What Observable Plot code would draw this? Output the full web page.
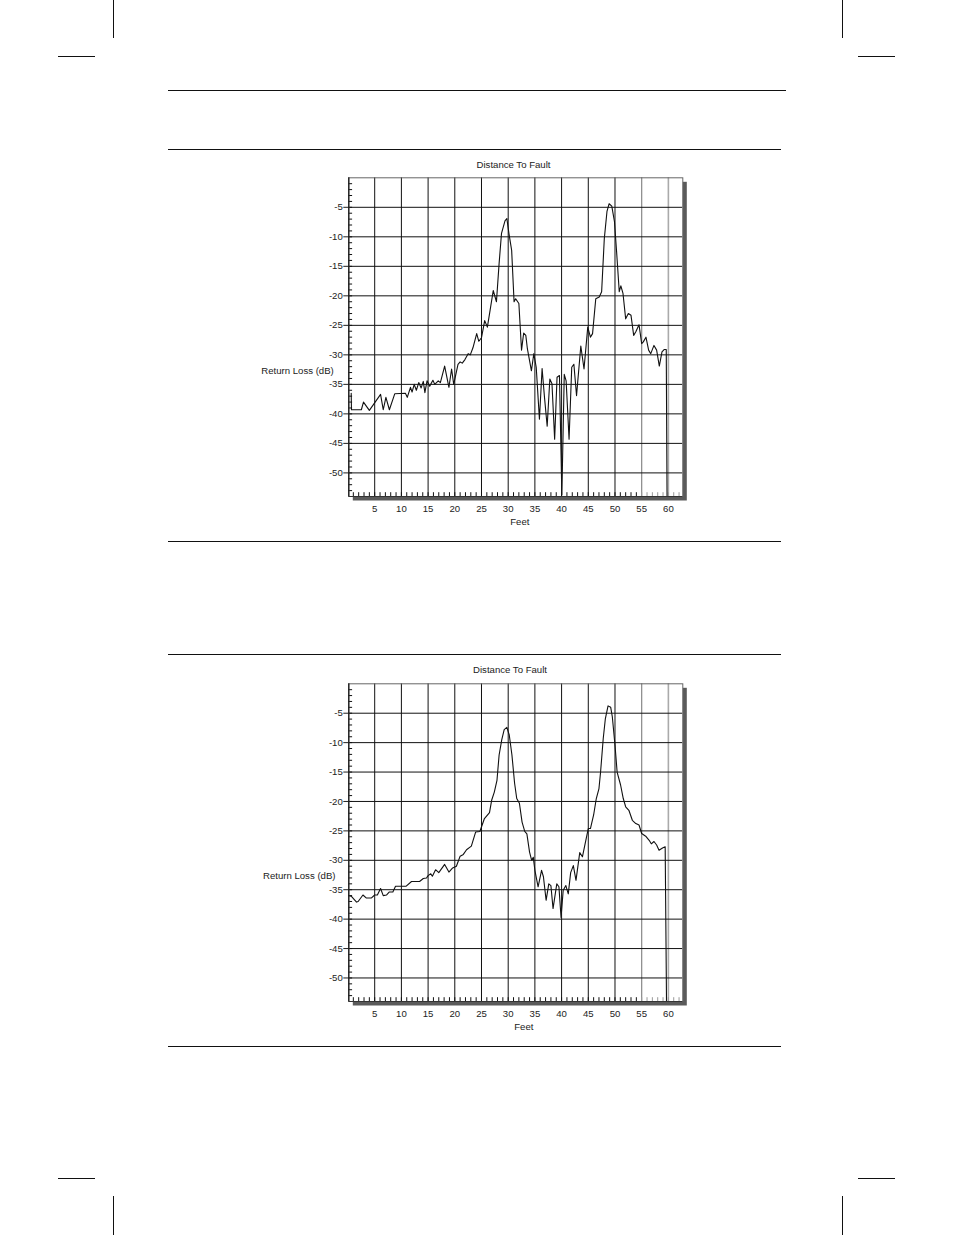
<!DOCTYPE html>
<html><head><meta charset="utf-8">
<script src="https://cdn.jsdelivr.net/npm/d3@7"></script>
<script src="https://cdn.jsdelivr.net/npm/@observablehq/plot@0.6"></script>
<style>
body{margin:0;background:#fff;}
#page{position:relative;width:954px;height:1235px;overflow:hidden;font-family:"Liberation Sans",Arial,sans-serif;}
.h{position:absolute;height:0;border-top:1px solid #111;}
.v{position:absolute;width:0;border-left:1px solid #111;}
.chart{position:absolute;left:0;}
</style></head><body>
<div id="page">
  <div class="v" style="left:113px;top:0;height:38px"></div>
  <div class="v" style="left:842px;top:0;height:38px"></div>
  <div class="h" style="left:58px;top:56px;width:37px"></div>
  <div class="h" style="left:858px;top:56px;width:37px"></div>
  <div class="h" style="left:58px;top:1178px;width:37px"></div>
  <div class="h" style="left:858px;top:1178px;width:37px"></div>
  <div class="v" style="left:113px;top:1196px;height:39px"></div>
  <div class="v" style="left:842px;top:1196px;height:39px"></div>
  <div class="h" style="left:168px;top:90px;width:618px"></div>
  <div class="h" style="left:168px;top:149px;width:613px"></div>
  <div class="h" style="left:168px;top:541px;width:613px"></div>
  <div class="h" style="left:168px;top:654px;width:613px"></div>
  <div class="h" style="left:168px;top:1046px;width:613px"></div>
  <div class="chart" id="c1" style="top:150px"></div>
  <div class="chart" id="c2" style="top:655px"></div>
</div>
<script>
// Axis configuration
const xDomain = [0.15, 62.7];
const yDomain = [-54, 0];
const xGridTicks = [5, 10, 15, 20, 25, 30, 35, 40, 45, 50, 55, 60];
const yGridTicks = [-5, -10, -15, -20, -25, -30, -35, -40, -45, -50];
const xMinorTicks = [1,2,3,4,5,6,7,8,9,10,11,12,13,14,15,16,17,18,19,20,21,22,23,24,25,26,27,28,29,30,31,32,33,34,35,36,37,38,39,40,41,42,43,44,45,46,47,48,49,50,51,52,53,54,55,56,57,58,59,60,61,62];
const yMinorTicks = [-1,-2,-3,-4,-5,-6,-7,-8,-9,-10,-11,-12,-13,-14,-15,-16,-17,-18,-19,-20,-21,-22,-23,-24,-25,-26,-27,-28,-29,-30,-31,-32,-33,-34,-35,-36,-37,-38,-39,-40,-41,-42,-43,-44,-45,-46,-47,-48,-49,-50,-51,-52,-53];

// Chart 1 trace
const topFeet = [0.6,0.65,2.5,2.9,4.0,6.1,6.6,7.1,7.75,8.75,10.75,11.1,11.7,12.0,12.4,12.8,13.25,13.7,14.1,14.4,14.8,15.3,15.9,16.25,16.9,17.3,18.1,18.9,19.4,19.8,20.6,21.0,21.4,21.9,22.5,22.9,23.4,24.1,24.5,25.0,25.6,26.1,26.6,27.2,27.8,28.3,28.75,29.4,29.75,30.15,30.65,31.1,31.4,32.0,32.5,32.9,33.3,33.6,34.35,34.8,35.25,35.85,36.35,36.8,37.3,37.8,38.2,38.7,39.15,39.6,40.05,40.5,40.85,41.4,41.9,42.3,42.8,43.6,44.2,44.9,45.4,45.8,46.4,47.05,47.5,48.0,48.5,48.9,49.4,49.9,50.3,50.8,51.1,51.5,52.0,52.5,53.0,53.5,53.9,54.5,55.0,55.3,55.8,56.3,56.7,57.3,57.8,58.3,58.8,59.2,59.6,59.75];
const topLoss = [-36.5,-39.3,-39.3,-38.0,-39.4,-36.7,-39.3,-37.2,-39.3,-36.6,-36.5,-37.2,-35.5,-36.3,-35.0,-36.0,-34.7,-35.6,-34.5,-36.4,-34.4,-35.3,-34.3,-35.0,-34.4,-34.7,-31.9,-35.5,-32.4,-35.0,-31.6,-31.2,-31.4,-30.8,-29.8,-30.0,-28.8,-26.4,-27.7,-27.1,-24.2,-25.3,-22.5,-19.1,-21.0,-14.5,-9.4,-7.3,-6.9,-9.5,-12.3,-21.0,-20.5,-21.3,-29.2,-26.3,-26.7,-29.0,-32.7,-29.8,-32.1,-40.9,-32.3,-37.2,-42.1,-34.1,-34.9,-44.3,-33.8,-33.5,-53.7,-33.3,-34.4,-44.3,-32.1,-31.6,-36.9,-28.5,-32.4,-25.3,-27.0,-26.4,-20.5,-20.2,-19.3,-10.3,-5.7,-4.4,-4.8,-7.4,-12.5,-19.3,-18.3,-19.6,-23.9,-23.0,-23.3,-26.7,-26.1,-24.9,-28.1,-27.8,-27.0,-29.2,-29.8,-28.4,-29.2,-31.9,-29.5,-29.1,-29.1,-54.0];

// Chart 2 trace
const bottomFeet = [0.1,0.6,1.6,1.9,2.8,3.4,4.4,5.0,5.5,6.1,6.6,7.2,7.7,8.4,8.9,10.9,11.9,13.4,14.1,14.7,15.0,15.5,15.8,16.4,17.0,18.1,18.9,19.6,20.3,21.0,21.6,22.2,23.1,23.9,24.7,25.55,26.5,26.9,27.4,27.9,28.3,28.8,29.25,29.75,30.2,30.7,31.2,31.6,32.1,32.6,33.1,33.5,34.0,34.4,34.7,35.0,35.6,36.25,36.6,37.1,37.6,38.0,38.4,39.1,39.5,39.9,40.3,40.8,41.25,41.7,42.2,42.7,43.4,43.9,44.45,45.0,45.4,46.0,46.5,47.0,47.3,47.8,48.2,48.7,49.2,49.5,50.0,50.4,51.05,51.55,52.0,52.6,53.25,53.9,54.5,55.0,55.75,56.4,56.8,57.3,57.8,58.25,58.9,59.4,59.65];
const bottomLoss = [-36.0,-36.1,-37.1,-37.0,-35.9,-36.4,-36.4,-35.9,-35.9,-34.8,-36.0,-35.9,-35.4,-35.4,-34.4,-34.4,-33.6,-33.6,-33.1,-33.0,-32.6,-32.3,-32.7,-31.6,-32.1,-30.7,-32.0,-31.3,-31.0,-29.3,-29.0,-28.2,-27.6,-25.2,-25.1,-22.9,-21.9,-19.8,-18.4,-16.4,-12.1,-9.5,-7.8,-7.4,-8.7,-12.1,-16.9,-19.5,-20.3,-23.5,-25.1,-25.5,-28.6,-30.0,-29.5,-31.7,-34.5,-31.7,-32.8,-36.8,-34.0,-34.3,-38.2,-34.0,-34.5,-39.7,-35.1,-34.3,-35.7,-32.1,-30.9,-33.4,-28.7,-29.4,-27.0,-24.6,-24.6,-22.3,-19.5,-17.8,-15.0,-9.3,-5.9,-3.75,-4.0,-5.6,-10.4,-15.0,-17.2,-19.5,-20.9,-21.5,-23.2,-23.75,-24.0,-25.45,-25.9,-26.6,-27.2,-26.8,-27.4,-28.3,-27.9,-27.7,-54.0];

const titleText = "Distance To Fault";
const yLabelText = "Return Loss (dB)";
const xLabelText = "Feet";
const FONT = "'Liberation Sans', Arial, Helvetica, sans-serif";
const FS = 9.6;

function makeChart({feet, loss, marginTop, titleDx, titleDy, ylabDx, ylabDy, feetDx, feetDy}) {
  const data = feet.map((f, i) => ({feet: f, loss: loss[i]}));
  const height = 390, marginBottom = 44, marginLeft = 348.3, marginRight = 271.7, width = 954;
  const fh = height - marginTop - marginBottom;
  const fw = width - marginLeft - marginRight;
  const tl = 3.8;
  return Plot.plot({
    width, height, marginTop, marginBottom, marginLeft, marginRight,
    x: {domain: xDomain},
    y: {domain: yDomain},
    style: {fontFamily: FONT, fontSize: FS + "px", color: "#222", background: "transparent", overflow: "visible"},
    marks: [
      Plot.frame({fill: "#5a5a5a", stroke: null, dx: 4, dy: 4}),
      Plot.frame({fill: "#fff", stroke: null}),
      Plot.ruleX(xGridTicks.filter(d => d < 55), {stroke: "#111", strokeWidth: 1}),
      Plot.ruleX(xGridTicks.filter(d => d === 55), {stroke: "#888", strokeWidth: 1.2}),
      Plot.ruleX(xGridTicks.filter(d => d === 60), {stroke: "#aaa", strokeWidth: 1.6}),
      Plot.ruleY(yGridTicks, {stroke: "#111", strokeWidth: 1}),
      Plot.tickY(yMinorTicks, {y: d => d, insetRight: fw - tl, stroke: "#111"}),
      Plot.tickX(xMinorTicks.filter(d => d < 55), {x: d => d, insetTop: fh - tl, stroke: "#111"}),
      Plot.tickX(xMinorTicks.filter(d => d >= 55), {x: d => d, insetTop: fh - tl, stroke: "#999"}),
      Plot.line(data, {x: "feet", y: "loss", stroke: "#111", strokeWidth: 1.1}),
      Plot.frame({stroke: "#666", strokeWidth: 1}),
      Plot.ruleX([xDomain[0]], {stroke: "#111", strokeWidth: 1.2}),
      Plot.ruleY([yDomain[0]], {stroke: "#333", strokeWidth: 1}),
      Plot.axisY(yGridTicks, {tickSize: 5, tickPadding: 1, fontSize: FS, label: null, stroke: "#222", tickFormat: d => String(d)}),
      Plot.axisX(xGridTicks, {tickSize: 0, tickPadding: 9, fontSize: FS, label: null, tickFormat: d => String(d)}),
      Plot.text([titleText], {frameAnchor: "top", dx: titleDx, dy: titleDy, fontSize: FS, fill: "#222"}),
      Plot.text([yLabelText], {frameAnchor: "left", textAnchor: "end", dx: ylabDx, dy: ylabDy, fontSize: FS, fill: "#222"}),
      Plot.text([xLabelText], {frameAnchor: "bottom", dx: feetDx, dy: feetDy, fontSize: FS, fill: "#222"})
    ]
  });
}

document.getElementById("c1").appendChild(makeChart({
  feet: topFeet, loss: topLoss, marginTop: 27.3,
  titleDx: -2.3, titleDy: -16.3, ylabDx: -15, ylabDy: 33.3, feetDx: 4, feetDy: 28
}));
document.getElementById("c2").appendChild(makeChart({
  feet: bottomFeet, loss: bottomLoss, marginTop: 28.3,
  titleDx: -5.8, titleDy: -17.3, ylabDx: -13.3, ylabDy: 32.8, feetDx: 8, feetDy: 28
}));
</script>
</body></html>
